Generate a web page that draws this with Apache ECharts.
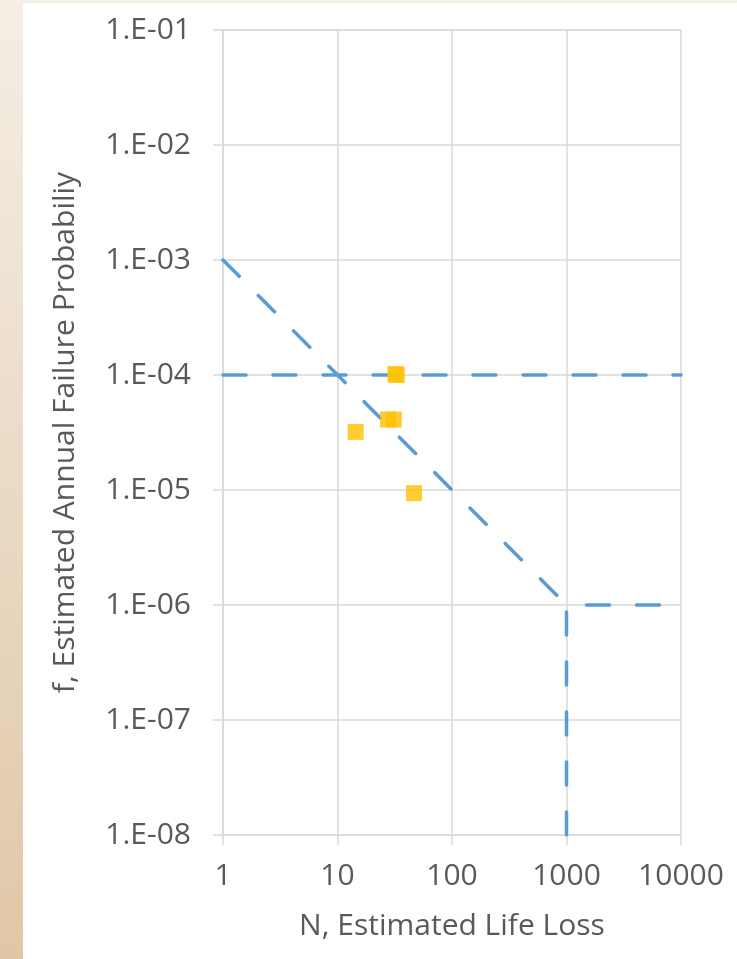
<!DOCTYPE html>
<html>
<head>
<meta charset="utf-8">
<script src="https://cdn.jsdelivr.net/npm/echarts@6/dist/echarts.min.js"></script>
<style>
html,body{margin:0;padding:0;background:#fff;}
#c{width:737px;height:959px;}
</style>
</head>
<body>
<div id="c"></div>
<script>
// Tick labels
const xTickLabels = {1: '1', 10: '10', 100: '100', 1000: '1000', 10000: '10000'};
const yTickLabels = ['1.E-08','1.E-07','1.E-06','1.E-05','1.E-04','1.E-03','1.E-02','1.E-01'];
// Criteria lines (N, f)
const limitDiagonal = [[1, 1e-3], [1000, 1e-6]];
const limitHorizontal = [[1, 1e-4], [10000, 1e-4]];
const limitLowHorizontal = [[1000, 1e-6], [10000, 1e-6]];
const limitVertical = [[1000, 1e-6], [1000, 1e-8]];
// Estimated points (N, f)
const pointsN = [32, 33, 27.6, 31, 14.4, 46.6];
const pointsF = [1.02e-4, 1.0e-4, 4.1e-5, 4.1e-5, 3.2e-5, 9.4e-6];

const chart = echarts.init(document.getElementById('c'), null, {renderer: 'canvas'});
const font = 'Open Sans';
const fs = 30;
const lineColor = '#5b9bd5';
function lineSeries(data, offset) {
  return {type: 'line', data: data, symbol: 'none', z: 3, silent: true,
    lineStyle: {color: lineColor, width: 3.5, type: [23, 27], dashOffset: offset, cap: 'round'}};
}
chart.setOption({
  animation: false,
  textStyle: {fontFamily: font},
  graphic: [
    {type: 'rect', left: 0, top: 0, z: -10, shape: {width: 737, height: 959},
     style: {fill: new echarts.graphic.LinearGradient(0, 0, 0, 1, [
       {offset: 0, color: '#f5eee5'}, {offset: 1, color: '#e0c7a7'}])}},
    {type: 'rect', left: 23, top: 3, z: -9, shape: {width: 714, height: 956}, style: {fill: '#ffffff'}}
  ],
  grid: {left: 223, right: 56, top: 30, bottom: 124, containLabel: false},
  xAxis: {
    type: 'log', logBase: 10, min: 1, max: 10000, splitNumber: 10,
    name: 'N, Estimated Life Loss', nameLocation: 'middle', nameGap: 76,
    nameTextStyle: {fontSize: fs, color: '#595959', fontFamily: font},
    axisLine: {show: true, lineStyle: {color: '#d9d9d9', width: 1.5}},
    axisTick: {show: true, length: 10, lineStyle: {color: '#d9d9d9', width: 1.5}},
    axisLabel: {fontSize: fs, color: '#595959', margin: 26, fontFamily: font,
      formatter: v => xTickLabels[Math.round(v)] || ''},
    splitLine: {show: true, lineStyle: {color: '#d9d9d9', width: 1.5}},
    minorTick: {show: false}
  },
  yAxis: {
    type: 'log', logBase: 10, min: 1e-8, max: 1e-1, splitNumber: 10,
    name: 'f, Estimated Annual Failure Probabiliy', nameLocation: 'middle', nameGap: 143,
    nameTextStyle: {fontSize: fs, color: '#595959', fontFamily: font},
    axisLine: {show: true, lineStyle: {color: '#d9d9d9', width: 1.5}},
    axisTick: {show: true, length: 10, lineStyle: {color: '#d9d9d9', width: 1.5}},
    axisLabel: {fontSize: fs, color: '#595959', margin: 32, fontFamily: font,
      formatter: v => yTickLabels[Math.round(Math.log10(v)) + 8] || ''},
    splitLine: {show: true, lineStyle: {color: '#d9d9d9', width: 1.5}}
  },
  series: [
    lineSeries(limitHorizontal, 0),
    lineSeries(limitDiagonal, 0),
    lineSeries(limitLowHorizontal, 30),
    lineSeries(limitVertical, 43),
    {type: 'scatter', symbol: 'rect', symbolSize: 16, z: 5,
     itemStyle: {color: '#ffc000'},
     data: pointsN.map((n, i) => [n, pointsF[i]])}
  ]
});
</script>
</body>
</html>
